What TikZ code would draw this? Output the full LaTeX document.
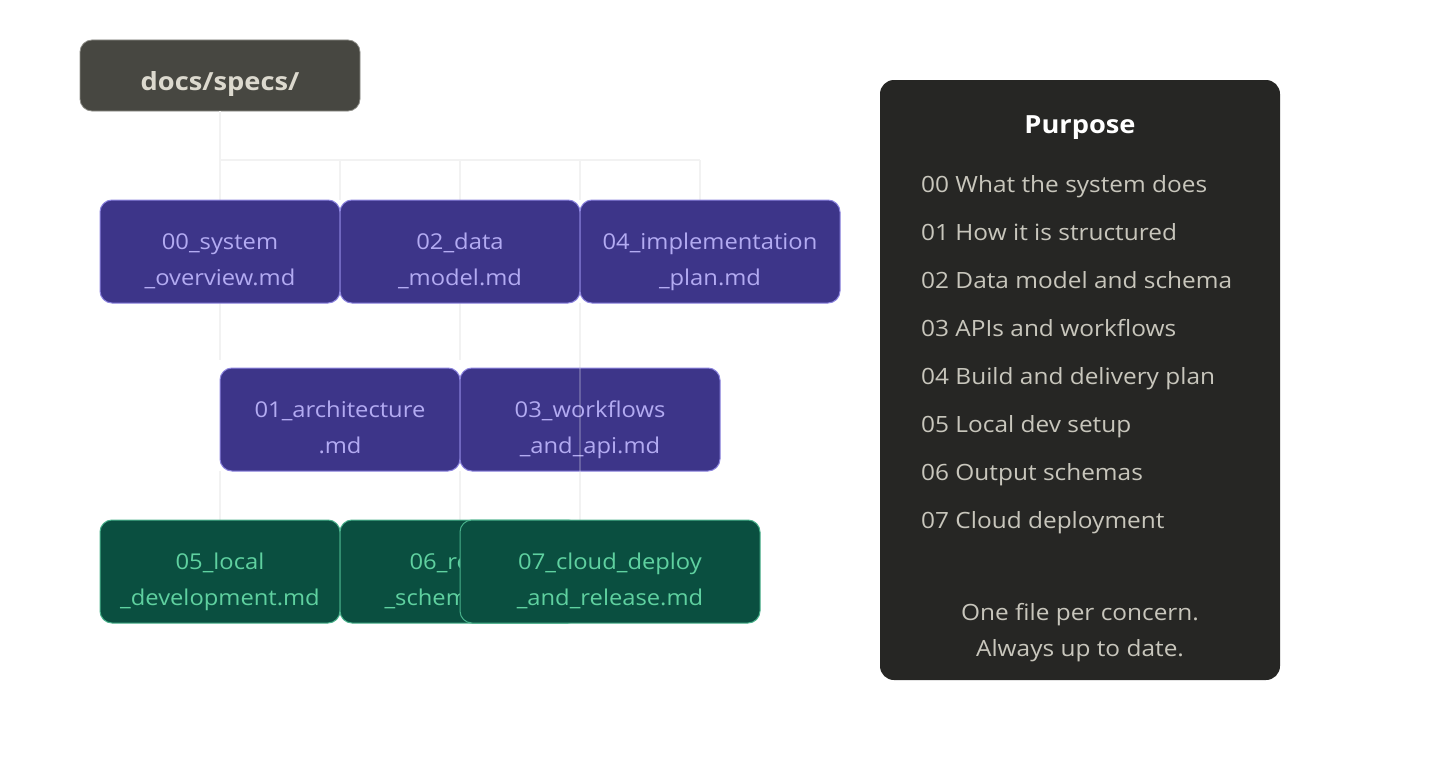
\documentclass[tikz,border=0pt]{standalone}
\usepackage{fontspec}
\setmainfont{Open Sans}[FakeStretch=1.09]
\definecolor{docfill}{HTML}{474741}
\definecolor{docdraw}{HTML}{8E8E88}
\definecolor{doctext}{HTML}{DCD9CE}
\definecolor{pfill}{HTML}{3D3589}
\definecolor{pdraw}{HTML}{8C84DE}
\definecolor{ptext}{HTML}{B3ABF2}
\definecolor{gfill}{HTML}{0A4F40}
\definecolor{gdraw}{HTML}{48B08A}
\definecolor{gtext}{HTML}{5FD1A0}
\definecolor{purfill}{HTML}{262624}
\definecolor{puritem}{HTML}{C8C6BC}
\definecolor{treec}{HTML}{F2F2F2}
\begin{document}
\begin{tikzpicture}[x=1pt,y=-1pt,
  tree/.style={draw=treec,line width=1.7pt},
  filebox/.style={rounded corners=12pt,line width=1pt,minimum height=103pt,inner sep=0pt},
  pbox/.style={filebox,draw=pdraw,fill=pfill,minimum width=#1},
  gbox/.style={filebox,draw=gdraw,fill=gfill,minimum width=#1},
  ftext/.style={align=center,inner sep=0pt,font=\fontsize{21.8}{36}\selectfont},
  ptxt/.style={ftext,text=ptext},
  gtxt/.style={ftext,text=gtext},
  item/.style={anchor=base west,inner sep=0pt,text=puritem,font=\fontsize{22.4}{26}\selectfont},
  foot/.style={anchor=base,inner sep=0pt,text=puritem,font=\fontsize{22.4}{26}\selectfont}
]
\useasboundingbox[fill=white] (0,0) rectangle (1440,760);

% root
\node[rounded corners=12pt,draw=docdraw,fill=docfill,line width=0.8pt,minimum width=280pt,minimum height=71pt,inner sep=0pt] (docs) at (220,75.5) {};
\node[anchor=base,inner sep=0pt,text=doctext,font=\bfseries\fontsize{25}{30}\selectfont] (docst) at (220,90) {docs/specs/};

% tree bus
\coordinate (busL) at (220,160);
\coordinate (busR) at (700,160);
\coordinate (r1) at (0,200);
\draw[tree] (docs.south) -- (busL) -- (busR);
\draw[tree] (busL) -- (busL |- r1);
\draw[tree] (340,160) -- (340,200);
\draw[tree] (460,160) -- (460,200);
\draw[tree] (580,160) -- (580,200);
\draw[tree] (busR) -- (busR |- r1);
% row1 -> row2
\draw[tree] (220,303) -- (220,360);
\draw[tree] (460,303) -- (460,360);
\draw[tree] (580,303) -- (580,520);
% row2 -> row3
\draw[tree] (220,471) -- (220,520);
\draw[tree] (460,471) -- (460,520);

% row 1
\node[pbox=240pt] (n00) at (220,251.5) {};
\node[ptxt] (t00) at (220,260.3) {\strut 00\_system\\\strut \_overview.md};
\node[pbox=240pt] (n02) at (460,251.5) {};
\node[ptxt] (t02) at (460,260.3) {\strut 02\_data\\\strut \_model.md};
\node[pbox=260pt] (n04) at (710,251.5) {};
\node[ptxt] (t04) at (710,260.3) {\strut 04\_implementation\\\strut \_plan.md};

% row 2
\node[pbox=240pt] (n01) at (340,419.5) {};
\node[ptxt] (t01) at (340,428.3) {\strut 01\_architecture\\\strut .md};
\node[pbox=260pt] (n03) at (590,419.5) {};
\node[ptxt] (t03) at (590,428.3) {\strut 03\_workflows\\\strut \_and\_api.md};
\draw[draw=white,opacity=0.22,line width=1.3pt] (n03.north -| 580,0) -- (n03.south -| 580,0);

% row 3
\node[gbox=240pt] (n05) at (220,571.5) {};
\node[gtxt] (t05) at (220,580.3) {\strut 05\_local\\\strut \_development.md};
\node[gbox=240pt] (n06) at (460,571.5) {};
\node[gtxt] (t06) at (460,580.3) {\strut 06\_result\\\strut \_schemas.md};
\node[gbox=300pt] (n07) at (610,571.5) {};
\node[gtxt] (t07) at (610,580.3) {\strut 07\_cloud\_deploy\\\strut \_and\_release.md};

% purpose panel
\node[rounded corners=14pt,fill=purfill,minimum width=400pt,minimum height=600pt,inner sep=0pt] (purpose) at (1080,380) {};
\node[anchor=base,inner sep=0pt,text=white,font=\bfseries\fontsize{25}{30}\selectfont] (ptitle) at (1080,133) {Purpose};
\node[item] (p0) at (921,192) {00 What the system does};
\node[item] (p1) at (921,240) {01 How it is structured};
\node[item] (p2) at (921,288) {02 Data model and schema};
\node[item] (p3) at (921,336) {03 APIs and workflows};
\node[item] (p4) at (921,384) {04 Build and delivery plan};
\node[item] (p5) at (921,432) {05 Local dev setup};
\node[item] (p6) at (921,480) {06 Output schemas};
\node[item] (p7) at (921,528) {07 Cloud deployment};
\node[foot] (f1) at (1080,620) {One file per concern.};
\node[foot] (f2) at (1080,656) {Always up to date.};
\end{tikzpicture}
\end{document}
